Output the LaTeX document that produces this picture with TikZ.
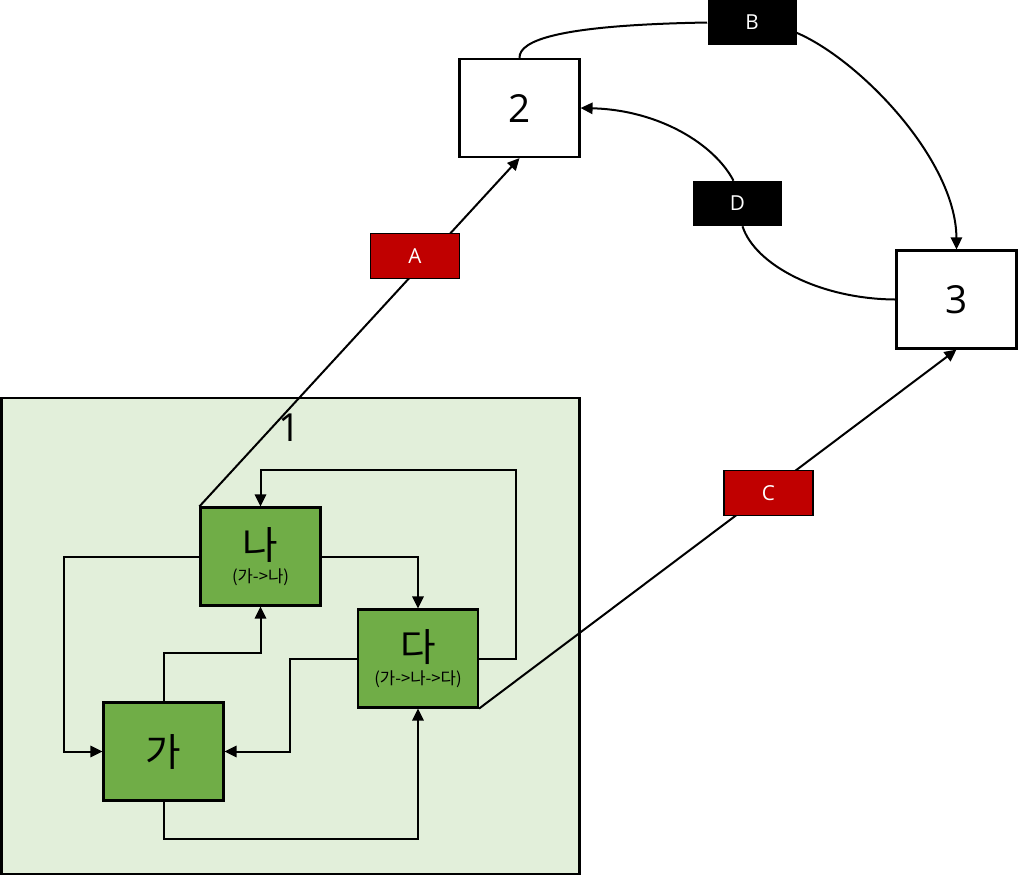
\documentclass[tikz,border=0pt]{standalone}
\usepackage{fontspec}
\setmainfont{Open Sans}
\newfontfamily\kr{Noto Sans CJK KR}
\usetikzlibrary{arrows.meta,calc}
\definecolor{contfill}{HTML}{E2EFDA}
\definecolor{gboxfill}{HTML}{70AD47}
\definecolor{lblred}{HTML}{C00000}
\begin{document}
\begin{tikzpicture}[x=0.75pt,y=-0.75pt,
  box/.style={draw,line width=1.6pt,minimum width=90pt,minimum height=73.5pt,inner sep=0pt,align=center},
  gnode/.style={box,fill=gboxfill},
  wnode/.style={box,fill=white,font=\fontsize{29}{30}\selectfont},
  lbl/.style={minimum width=66.75pt,minimum height=33.75pt,inner sep=0pt,text=white,font=\fontsize{15.5}{16}\selectfont},
  redlbl/.style={lbl,fill=lblred,draw=black,line width=1pt},
  blacklbl/.style={lbl,fill=black},
  conn/.style={line width=1.5pt},
  arr/.style={conn,-{Triangle[length=9pt,width=8.5pt]}},
  bigk/.style={font=\kr\fontsize{29}{30}\selectfont}]
\useasboundingbox (0,0) rectangle (1018,876);
% container
\node[draw,line width=1.6pt,fill=contfill,minimum width=433.5pt,minimum height=357pt,inner sep=0pt] (c1) at (290.5,636) {};
\node[font=\fontsize{29}{30}\selectfont,inner sep=0pt] (t1) at (290,428) {1};
% inner nodes
\node[gnode] (na) at (260.5,556.5) {{\kr\fontsize{29}{30}\selectfont 나}\\[4pt]{\kr\fontsize{12.5}{13}\selectfont (가->나)}};
\node[gnode] (nd) at (418,658.5) {{\kr\fontsize{29}{30}\selectfont 다}\\[4pt]{\kr\fontsize{12.5}{13}\selectfont (가->나->다)}};
\node[gnode,bigk] (ng) at (163.5,751.5) {가};
% outer nodes
\node[wnode] (n2) at (519.5,108) {2};
\node[wnode] (n3) at (956.5,299.5) {3};
% orthogonal connectors
\draw[arr] (na.west) -- ++(-135.5,0) |- (ng.west);
\draw[arr] (na.east) -| (nd.north);
\draw[arr] (nd.east) -| (515.5,470) -| (na.north);
\draw[arr] (nd.west) -- ++(-67,0) |- (ng.east);
\draw[arr] (ng.north) -- ++(0,-48) -| (na.south);
\draw[arr] (ng.south) -- ++(0,37) -| (nd.south);
% straight connectors with labels
\draw[arr] (na.north west) -- (n2.south);
\draw[arr] (nd.south east) -- (n3.south);
\node[redlbl] (lA) at (415,256) {A};
\node[redlbl] (lC) at (768.5,493) {C};
% curved connectors
\node[blacklbl] (lB) at (752,22.5) {B};
\node[blacklbl] (lD) at (737.5,203.5) {D};
\draw[conn] (n2.north) .. controls (519,40) and (560,25) .. (lB.west);
\draw[arr] (lB.-13) .. controls (860,60) and (956,160) .. (n3.north);
\draw[conn] (n3.west) .. controls (820,299) and (755,265) .. ($(lD.south)+(5,0)$);
\draw[arr] ($(lD.north)+(-4,0)$) .. controls (715,145) and (660,110) .. (n2.east);
\end{tikzpicture}
\end{document}
